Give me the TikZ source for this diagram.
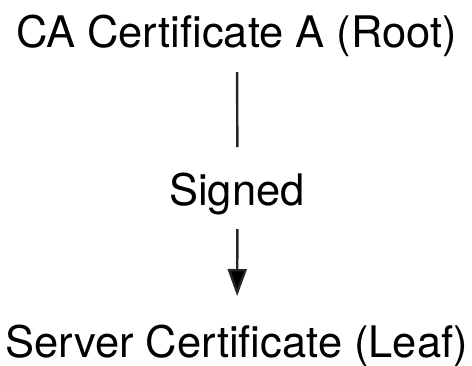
\documentclass[tikz,border=0pt]{standalone}
\usepackage{fontspec}
\setmainfont{TeX Gyre Heros}
\usetikzlibrary{arrows.meta}
\begin{document}
\begin{tikzpicture}[x=1pt,y=-1pt,
  label text/.style={inner sep=0pt, outer sep=0pt, anchor=base,
    text height=32pt, text depth=10pt,
    font=\fontsize{43.5pt}{50pt}\selectfont},
  link/.style={draw=black!85, line width=2.4pt},
  sig/.style={-{Triangle[length=27pt,width=19pt,fill=black]}}]
  \useasboundingbox (0,0) rectangle (472,365);
  \node[label text] (root) at (236.5,47.5) {CA Certificate A (Root)};
  \node[label text] (signed) at (237,205) {Signed};
  \node[label text] (leaf) at (236.5,357) {Server Certificate (Leaf)};
  \draw[link, shorten <=14.5pt, shorten >=26pt]
    ([xshift=0.5pt]root.south) -- ([xshift=0.5pt]signed.north);
  \draw[link, sig, shorten <=14pt, shorten >=29pt]
    ([xshift=0.5pt]signed.south) -- ([xshift=0.5pt]leaf.north);
\end{tikzpicture}
\end{document}
